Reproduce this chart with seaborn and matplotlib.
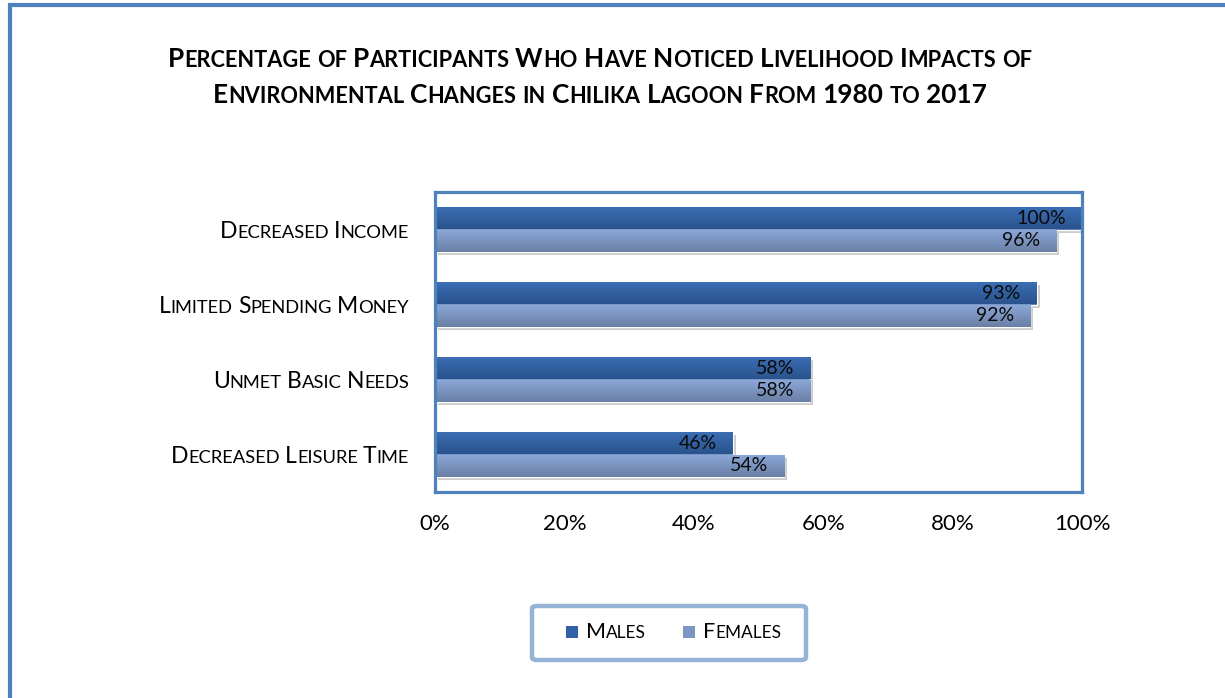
import numpy as np
import pandas as pd
import matplotlib
matplotlib.use("Agg")
import matplotlib.pyplot as plt
import seaborn as sns
from matplotlib.offsetbox import TextArea, HPacker, VPacker, AnnotationBbox, DrawingArea
from matplotlib.patches import Rectangle, FancyBboxPatch
from matplotlib.lines import Line2D
from matplotlib import patheffects as pe
from matplotlib.colors import LinearSegmentedColormap

# ---- data -------------------------------------------------------------
categories = ["Decreased Income", "Limited Spending Money",
              "Unmet Basic Needs", "Decreased Leisure Time"]
groups = ["Males", "Females"]
males = [100, 93, 58, 46]
females = [96, 92, 58, 54]
x_ticks = [0, 20, 40, 60, 80, 100]
title_lines = ["Percentage of Participants Who Have Noticed Livelihood Impacts of",
               "Environmental Changes in Chilika Lagoon From 1980 to 2017"]

df = pd.DataFrame({
    "category": categories * 2,
    "group": [groups[0]] * len(categories) + [groups[1]] * len(categories),
    "value": males + females,
})

# ---- style ------------------------------------------------------------
sns.set_theme(style="white")
plt.rcParams["font.family"] = ["Lato", "DejaVu Sans"]
plt.rcParams["text.color"] = "black"

W, H = 1225, 698
BLUE = "#4F81BD"
male_grad = ("#3B6FB6", "#2A538D")
female_grad = ("#8CA9DA", "#6A7FA5")
palette = {"Males": "#3361A6", "Females": "#7E96C4"}


def px(v):
    """pixels -> points at 100 dpi"""
    return v * 72 / 100


def small_caps(text, big, small, weight="normal", color="black"):
    """Pack a string as small caps: capitals/digits at `big`, the rest uppercased at `small`."""
    words = []
    for word in text.split(" "):
        runs = []
        for ch in word:
            if ch.islower():
                s, size = ch.upper(), small
            else:
                s, size = ch, big
            if runs and runs[-1][1] == size:
                runs[-1][0] += s
            else:
                runs.append([s, size])
        kids = [TextArea(s, textprops=dict(fontsize=sz, fontweight=weight, color=color))
                for s, sz in runs]
        words.append(HPacker(children=kids, align="baseline", pad=0, sep=0))
    return HPacker(children=words, align="baseline", pad=0, sep=small * 0.28)


fig = plt.figure(figsize=(W / 100, H / 100), dpi=100)
fig.patch.set_facecolor("white")

ax_left, ax_right, ax_top, ax_bottom = 435, 1082, 192, 492
ax = fig.add_axes([ax_left / W, 1 - ax_bottom / H,
                   (ax_right - ax_left) / W, (ax_bottom - ax_top) / H])

sns.barplot(data=df, y="category", x="value", hue="group", order=categories,
            hue_order=groups, palette=palette, orient="h", width=0.59,
            saturation=1, legend=False, ax=ax)

ax.set_xlim(0, 100)
ax.set_ylim(len(categories) - 0.5, -0.5)

# vertical gradient fill + soft shadow on every bar
grad = np.linspace(0, 1, 64).reshape(-1, 1)
for container, cols in zip(ax.containers, [male_grad, female_grad]):
    cmap = LinearSegmentedColormap.from_list("g", list(cols))
    for bar in container:
        x0, y0 = bar.get_x(), bar.get_y()
        w, h = bar.get_width(), bar.get_height()
        bar.set_path_effects([pe.SimplePatchShadow(offset=(2.2, -2.2), shadow_rgbFace="#808080",
                                                   alpha=0.4), pe.Normal()])
        im = ax.imshow(grad, extent=(x0, x0 + w, y0 + h, y0), aspect="auto",
                       cmap=cmap, origin="upper", zorder=bar.get_zorder() + 0.1,
                       interpolation="bilinear")
        im.set_clip_path(bar)
    labels = ax.bar_label(container, labels=[f"{v:.0f}%" for v in container.datavalues],
                          padding=-px(16), fontsize=14, color="#0a0a0a", zorder=5)
    for t in labels:
        t.set_ha("right")

ax.set_xlim(0, 100)
ax.set_ylim(len(categories) - 0.5, -0.5)

# axes frame
for sp in ax.spines.values():
    sp.set_visible(True)
    sp.set_color(BLUE)
    sp.set_linewidth(2.3)

ax.set_xticks(x_ticks)
ax.set_xticklabels([f"{t}%" for t in x_ticks], fontsize=16, color="black")
ax.tick_params(axis="x", length=0, pad=px(22), labelcolor="black")
ax.set_yticks(range(len(categories)))
ax.set_yticklabels([""] * len(categories))
ax.tick_params(axis="y", length=0)
ax.set_xlabel("")
ax.set_ylabel("")

# category labels in small caps
for i, cat in enumerate(categories):
    ab = AnnotationBbox(small_caps(cat, 16.5, 13.2), (0, i),
                        xycoords=("axes fraction", "data"),
                        xybox=(-px(26), px(-2)), boxcoords="offset points",
                        box_alignment=(1, 0.5), frameon=False, pad=0,
                        annotation_clip=False)
    ax.add_artist(ab)

# title
title_box = VPacker(children=[small_caps(t, 18.9, 15.7, weight="bold") for t in title_lines],
                    align="center", pad=0, sep=px(12))
fig.add_artist(AnnotationBbox(title_box, (600 / W, 1 - 77 / H), xycoords="figure fraction",
                              box_alignment=(0.5, 0.5), frameon=False, pad=0))

# legend
fig.add_artist(FancyBboxPatch((532 / W, 1 - 660 / H), 274 / W, 54 / H,
                              boxstyle="round,pad=0,rounding_size=0.004",
                              transform=fig.transFigure, facecolor="white",
                              edgecolor="#95B3D7", linewidth=3.2))
entries = []
for g in groups:
    da = DrawingArea(px(12), px(12), 0, 0)
    da.add_artist(Rectangle((0, 0), px(12), px(12), facecolor=palette[g], edgecolor="none"))
    entries.append(HPacker(children=[da, small_caps(g, 15.5, 12.4)], align="baseline",
                           pad=0, sep=px(8)))
leg = HPacker(children=entries, align="baseline", pad=0, sep=px(37))
fig.add_artist(AnnotationBbox(leg, (674 / W, 1 - 632 / H), xycoords="figure fraction",
                              box_alignment=(0.5, 0.5), frameon=False, pad=0))

# outer chart border (extends past the canvas on the right and bottom)
fig.add_artist(Line2D([10 / W, 10 / W, 1.05], [-0.05, 1 - 5 / H, 1 - 5 / H],
                      transform=fig.transFigure, color=BLUE, linewidth=3,
                      solid_joinstyle="miter"))

fig.savefig("out.png", dpi=100)
